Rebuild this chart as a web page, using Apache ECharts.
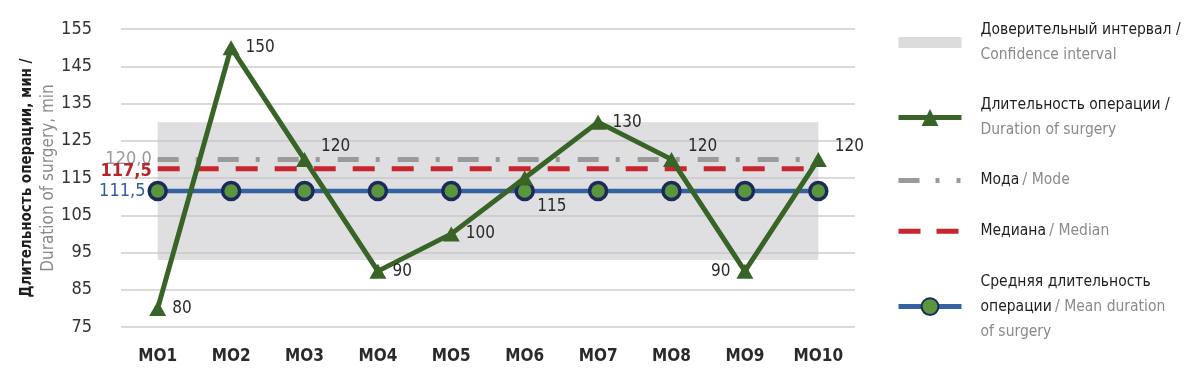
<!DOCTYPE html>
<html><head><meta charset="utf-8">
<script src="https://cdn.jsdelivr.net/npm/echarts@6/dist/echarts.min.js"></script>
<style>html,body{margin:0;padding:0;background:#fff}#c{width:1200px;height:382px}</style>
</head><body><div id="c"></div>
<script>
const categories = ['МО1','МО2','МО3','МО4','МО5','МО6','МО7','МО8','МО9','МО10'];
const duration = [80, 150, 120, 90, 100, 115, 130, 120, 90, 120];
const modeLine = [120, 120, 120, 120, 120, 120, 120, 120, 120, 120];
const medianLine = [117.5, 117.5, 117.5, 117.5, 117.5, 117.5, 117.5, 117.5, 117.5, 117.5];
const meanLine = [111.5, 111.5, 111.5, 111.5, 111.5, 111.5, 111.5, 111.5, 111.5, 111.5];
const ciBounds = [93, 130];
const yTicks = {min: 75, max: 155, step: 10};

const FONT = "'Liberation Sans Narrow','DejaVu Sans Condensed','Arial Narrow','Liberation Sans',sans-serif";

const chart = echarts.init(document.getElementById('c'), null, {renderer: 'canvas'});

const placement = {2: 'tr', 5: 'br', 7: 'tr', 8: 'l', 9: 'tr'};
const durData = duration.map((v, i) => {
  const p = placement[i];
  let label = {position: 'right', distance: 6};
  if (p === 'tr') label = {position: 'right', distance: 8, offset: [0, -13]};
  if (p === 'br') label = {position: 'right', distance: 4, offset: [0, 29]};
  if (p === 'l') label = {position: 'left', distance: 6};
  return {value: v, label: label};
});

function firstOnly(color, bold) {
  return {
    show: true, position: 'left', distance: 5,
    fontFamily: FONT, fontSize: 18, color: color, fontWeight: bold ? 'bold' : 'normal',
    formatter: p => p.dataIndex === 0 ? p.value.toFixed(1).replace('.', ',') : ''
  };
}

const legendText = {
  ci: '{ru|Доверительный интервал /}\n{en|Confidence interval}',
  dur: '{ru|Длительность операции /}\n{en|Duration of surgery}',
  mode: '{ru|Мода} {en|/ Mode}',
  median: '{ru|Медиана} {en|/ Median}',
  mean: '{ru|Средняя длительность}\n{ru|операции} {en|/ Mean duration}\n{en|of surgery}'
};

chart.setOption({
  animation: false,
  grid: {left: 121, right: 345, top: 29, bottom: 55},
  legend: {
    orient: 'vertical', left: 891, top: 17,
    itemWidth: 63, itemHeight: 21, itemGap: 34,
    selectedMode: false,
    lineStyle: {width: 5},
    data: [
      {name: 'ci', icon: 'path://M0,0H63V11H0Z', itemStyle: {color: '#dcdcdc'}},
      'dur',
      {name: 'mode', lineStyle: {type: [21, 16, 4, 17, 4, 20]}},
      {name: 'median', lineStyle: {type: [22, 16, 22, 10]}},
      'mean'
    ],
    formatter: n => legendText[n],
    textStyle: {
      padding: [0, 0, 0, 14],
      rich: {
        ru: {fontFamily: FONT, fontSize: 15.5, color: '#1e1e1e', lineHeight: 25},
        en: {fontFamily: FONT, fontSize: 15.5, color: '#8a8a8a', lineHeight: 25}
      }
    }
  },
  xAxis: {
    type: 'category', data: categories, boundaryGap: true,
    axisLine: {show: false}, axisTick: {show: false},
    axisLabel: {fontFamily: FONT, fontSize: 17, fontWeight: 'bold', color: '#2a2a2a', margin: 21}
  },
  yAxis: {
    type: 'value', min: yTicks.min, max: yTicks.max, interval: yTicks.step,
    axisLine: {show: false}, axisTick: {show: false},
    axisLabel: {fontFamily: FONT, fontSize: 18, color: '#333', margin: 29},
    splitLine: {lineStyle: {color: '#dadada', width: 2}},
    name: '{a|Длительность операции, мин /}\n{b|Duration of surgery, min}',
    nameLocation: 'middle', nameRotate: 90, nameGap: 62, nameMoveOverlap: false,
    nameTextStyle: {
      rich: {
        a: {fontFamily: FONT, fontSize: 15, fontWeight: 'bold', color: '#1e1e1e', lineHeight: 21},
        b: {fontFamily: FONT, fontSize: 17, color: '#8a8a8a', lineHeight: 21}
      }
    }
  },
  series: [
    {
      name: 'ci', type: 'line', data: [], color: '#dcdcdc', silent: true,
      markArea: {
        silent: true,
        itemStyle: {color: 'rgba(196,194,200,0.55)'},
        data: [[{coord: [categories[0], ciBounds[0]]}, {coord: [categories[categories.length - 1], ciBounds[1]]}]]
      }
    },
    {
      name: 'mode', type: 'line', data: modeLine, z: 3, silent: true,
      symbol: 'circle', symbolSize: 2,
      itemStyle: {color: 'rgba(0,0,0,0)', borderWidth: 0},
      lineStyle: {color: '#9a9a9a', width: 5, type: [21, 17, 4, 18], cap: 'butt'},
      label: firstOnly('#9a9a9a', false)
    },
    {
      name: 'median', type: 'line', data: medianLine, z: 3, silent: true,
      symbol: 'circle', symbolSize: 2,
      itemStyle: {color: 'rgba(0,0,0,0)', borderWidth: 0},
      lineStyle: {color: '#c8262c', width: 5, type: [22, 17], cap: 'butt'},
      label: Object.assign(firstOnly('#b8242a', true), {offset: [0, 3]})
    },
    {
      name: 'mean', type: 'line', data: meanLine, z: 4, silent: true,
      symbol: 'circle', symbolSize: 17, showAllSymbol: true,
      itemStyle: {color: '#5c963c', borderColor: '#1b2a5c', borderWidth: 3.5},
      lineStyle: {color: '#3462a2', width: 4.5},
      label: Object.assign(firstOnly('#2f5f9f', false), {distance: 2})
    },
    {
      name: 'dur', type: 'line', data: durData, z: 5, silent: true,
      symbol: 'triangle', symbolSize: [17, 15], showAllSymbol: true,
      itemStyle: {color: '#386428'},
      lineStyle: {color: '#386428', width: 5},
      label: {show: true, fontFamily: FONT, fontSize: 17, color: '#2a2a2a'}
    }
  ]
});
</script>
</body></html>
